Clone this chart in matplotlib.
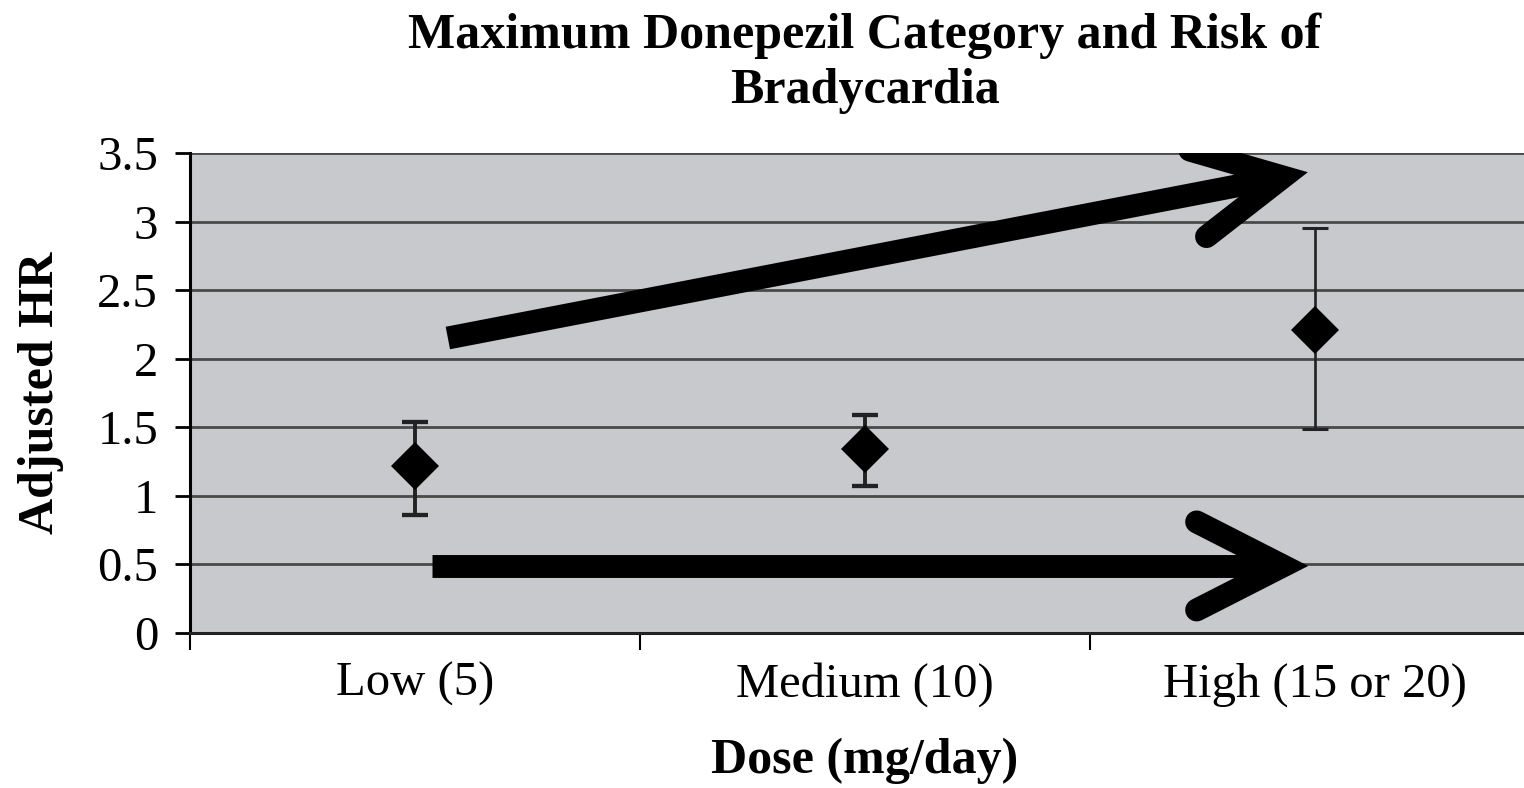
import numpy as np
import matplotlib
matplotlib.use("Agg")
import matplotlib.pyplot as plt
from matplotlib.transforms import IdentityTransform

# Data
categories = ["Low (5)", "Medium (10)", "High (15 or 20)"]
hr = [1.22, 1.34, 2.21]
ci_low = [0.86, 1.07, 1.49]
ci_high = [1.54, 1.59, 2.95]
y_ticks = [0, 0.5, 1, 1.5, 2, 2.5, 3, 3.5]

# Hand-drawn trend arrows (tail, tip) in data units
up_arrow = [(1.073, 2.151), (2.929, 3.325)]
flat_arrow = [(1.038, 0.489), (2.929, 0.489)]

plt.rcParams['font.family'] = ['Liberation Serif', 'DejaVu Serif']

fig = plt.figure(figsize=(15.24, 7.88), dpi=100)
ax = fig.add_axes([190 / 1524, 1 - 633 / 788, 1350 / 1524, 480 / 788])
ax.set_facecolor('#c8c9cc')

x = np.arange(1, len(categories) + 1)
bar_lw = [2.8, 2.8, 1.9]
for xi, h, lo, hi, lw in zip(x, hr, ci_low, ci_high, bar_lw):
    ax.errorbar([xi], [h], yerr=[[h - lo], [hi - h]], fmt='none',
                ecolor='#222222', elinewidth=lw, capsize=9.5, capthick=lw + 0.3,
                zorder=3)
ax.plot(x, hr, 'D', color='black', ms=24, mew=0, zorder=4)

ax.set_xlim(0.5, 3.5)
ax.set_ylim(0, 3.5)

# y axis
ax.set_yticks(y_ticks)
ax.set_yticklabels(['%g' % v for v in y_ticks])
ax.yaxis.grid(True, color='#4a4a4a', lw=2)
ax.set_axisbelow(True)
ax.tick_params(axis='y', labelsize=35, length=11, width=2, pad=12, direction='out')

# x axis: ticks between categories, labels at centres
ax.set_xticks([0.5, 1.5, 2.5, 3.5])
ax.set_xticklabels([])
ax.set_xticks(x, minor=True)
ax.set_xticklabels(categories, minor=True)
ax.tick_params(axis='x', which='major', length=12, width=1.5, direction='out')
ax.tick_params(axis='x', which='minor', length=0, labelsize=35, pad=21)

for side in ['top', 'right']:
    ax.spines[side].set_visible(False)
ax.spines['left'].set_linewidth(2.2)
ax.spines['bottom'].set_linewidth(2.2)
ax.spines['bottom'].set_color('#222222')

ax.set_title('Maximum Donepezil Category and Risk of\nBradycardia',
             fontsize=36, fontweight='bold', pad=36, linespacing=1.25)
ax.set_ylabel('Adjusted HR', fontsize=36, fontweight='bold', labelpad=24)
ax.set_xlabel('Dose (mg/day)', fontsize=36, fontweight='bold', labelpad=22)


def draw_arrow(tail, tip, lw=16.5, arm=97, half_angle=27):
    # work in pixels so the head keeps its shape
    p0 = ax.transData.transform(tail)
    p1 = ax.transData.transform(tip)
    d = (p1 - p0) / np.hypot(*(p1 - p0))
    ang = np.radians(half_angle)
    back = -d
    rot = lambda v, a: np.array([v[0] * np.cos(a) - v[1] * np.sin(a),
                                 v[0] * np.sin(a) + v[1] * np.cos(a)])
    a1 = p1 + arm * rot(back, ang)
    a2 = p1 + arm * rot(back, -ang)
    ax.plot([p0[0], p1[0]], [p0[1], p1[1]], color='black', lw=lw,
            solid_capstyle='butt', transform=IdentityTransform(), zorder=5)
    ax.plot([a1[0], p1[0], a2[0]], [a1[1], p1[1], a2[1]], color='black', lw=lw,
            solid_capstyle='round', solid_joinstyle='miter',
            transform=IdentityTransform(), zorder=5)


draw_arrow(*up_arrow)
draw_arrow(*flat_arrow)

ax.set_xlim(0.5, 3.5)
ax.set_ylim(0, 3.5)

fig.savefig('out.png', dpi=100)
